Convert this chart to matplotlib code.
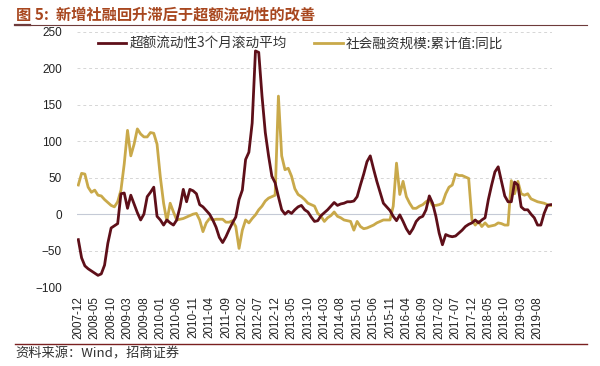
import matplotlib
matplotlib.use("Agg")
import matplotlib.pyplot as plt
import pandas as pd
import numpy as np

plt.rcParams['font.family'] = ['Liberation Sans', 'Noto Sans CJK SC', 'DejaVu Sans']

months = pd.period_range("2007-12", periods=145, freq="M").strftime("%Y-%m").tolist()

excess_liquidity = [
    -35, -60, -71, -75, -78, -81, -84, -82, -70, -40,
    -19, -16, -13, 28, 29, 8, 26, 14, 2, -8,
    0, 24, 30, 37, -3, -8, -15, -8, -12, -15,
    -8, 10, 34, 17, 34, 32, 28, 13, 10, 5,
    0, -8, -18, -32, -39, -31, -21, -12, -4, 20,
    33, 75, 85, 125, 224, 222, 162, 112, 80, 52,
    43, 24, 6, 0, 4, 1, 6, 10, 12, 6,
    3, -4, -10, -9, -2, 2, 6, 11, 16, 12,
    14, 15, 17, 17, 18, 24, 40, 55, 72, 80,
    62, 45, 30, 15, 10, 5, -3, -9, -1, -10,
    -20, -27, -20, -10, -5, -3, 6, 25, 15, -3,
    -26, -42, -28, -30, -31, -30, -26, -22, -17, -14,
    -12, -8, -12, -8, -5, 20, 40, 58, 65, 45,
    25, 17, 17, 44, 40, 10, 6, 6, 0, -5,
    -15, -15, 1, 12, 13,
]

social_financing_yoy = [
    40, 56, 55, 37, 30, 33, 26, 25, 20, 16,
    12, 10, 17, 33, 69, 115, 80, 96, 117, 110,
    106, 106, 112, 111, 96, 51, 15, -10, 15, 3,
    -8, -7, -6, -4, -2, 0, 1, -8, -24, -12,
    -6, -8, -7, -7, -7, -11, -11, -9, -17, -47,
    -22, -8, -12, -6, -1, 6, 11, 18, 22, 24,
    26, 162, 80, 61, 63, 52, 35, 27, 24, 20,
    15, 13, 11, 1, -3, -10, -5, -2, 3, -3,
    -5, -8, -9, -10, -22, -10, -17, -20, -19, -17,
    -15, -12, -10, -8, -8, -8, 11, 70, 27, 45,
    24, 15, 8, 8, 11, 13, 17, 20, 12, 12,
    13, 15, 28, 37, 40, 55, 53, 53, 51, 49,
    -8, -15, -10, -17, -12, -17, -16, -15, -12, -13,
    -15, -15, 46, 28, 45, 28, 26, 28, 21, 19,
    17, 16, 15, 13, 12,
]

yticks = [250, 200, 150, 100, 50, 0, -50, -100]
series_names = ["超额流动性3个月滚动平均", "社会融资规模:累计值:同比"]
title = "图 5:  新增社融回升滞后于超额流动性的改善"
source = "资料来源：Wind，招商证券"

RED = "#5E0F19"
GOLD = "#C9A94A"
W, H = 600.0, 366.0

fig = plt.figure(figsize=(6.0, 3.66), dpi=100)
ax = fig.add_axes([77 / W, 1 - 287 / H, 475 / W, 255 / H])

x = np.arange(len(months))
ax.plot(x, social_financing_yoy, color=GOLD, lw=2.0, label=series_names[1], zorder=3)
ax.plot(x, excess_liquidity, color=RED, lw=2.0, label=series_names[0], zorder=4)

ax.set_ylim(-100, 250)
ax.set_xlim(-0.4, len(months) - 0.6)
ax.set_yticks(yticks)
for v in yticks:
    if v == 0:
        ax.axhline(v, color="#C5CAD6", lw=0.8, zorder=1)
    else:
        ax.axhline(v, color="#D6D6D6", lw=0.7, ls=(0, (3, 3)), zorder=1)

tick_pos = x[::5]
ax.set_xticks(tick_pos)
ax.set_xticklabels([months[i] for i in tick_pos], rotation=90, fontsize=8.4,
                   family=['Liberation Sans', 'DejaVu Sans'], color="#222222")
ax.tick_params(axis='x', length=0, pad=6.5)
ax.tick_params(axis='y', length=0, pad=10.8, labelsize=8.5, labelcolor="#222222")
for lab in ax.get_yticklabels():
    lab.set_family(['Liberation Sans', 'DejaVu Sans'])
for s in ax.spines.values():
    s.set_visible(False)

handles, labels = ax.get_legend_handles_labels()
leg = ax.legend(handles[::-1], labels[::-1], ncol=2, loc="center",
                bbox_to_anchor=((300.5 - 77) / 475, (287 - 44) / 255), frameon=False,
                handlelength=2.1, columnspacing=2.0, handletextpad=0.25,
                borderpad=0, borderaxespad=0,
                prop={'family': ['Noto Sans CJK SC', 'DejaVu Sans'], 'size': 9.8})
for t in leg.get_texts():
    t.set_color("#333333")

fig.text(16 / W, 1 - 15 / H, title, fontsize=11, color="#A8471F", fontweight='bold',
         va='center', ha='left', family=['Noto Sans CJK SC', 'DejaVu Sans'])
fig.add_artist(plt.Line2D([15 / W, 587 / W], [1 - 24.5 / H, 1 - 24.5 / H], color="#6E3B3B", lw=0.8))
fig.add_artist(plt.Line2D([15 / W, 30 / W], [1 - 24.5 / H, 1 - 24.5 / H], color="#6E3B3B", lw=1.6))
fig.add_artist(plt.Line2D([15 / W, 587 / W], [1 - 343.5 / H, 1 - 343.5 / H], color="#7A2020", lw=1.0))
fig.text(15 / W, 1 - 354 / H, source, fontsize=9.5, color="#333333", va='center', ha='left',
         family=['Noto Sans CJK SC', 'DejaVu Sans'])

fig.savefig("out.png", dpi=100)
